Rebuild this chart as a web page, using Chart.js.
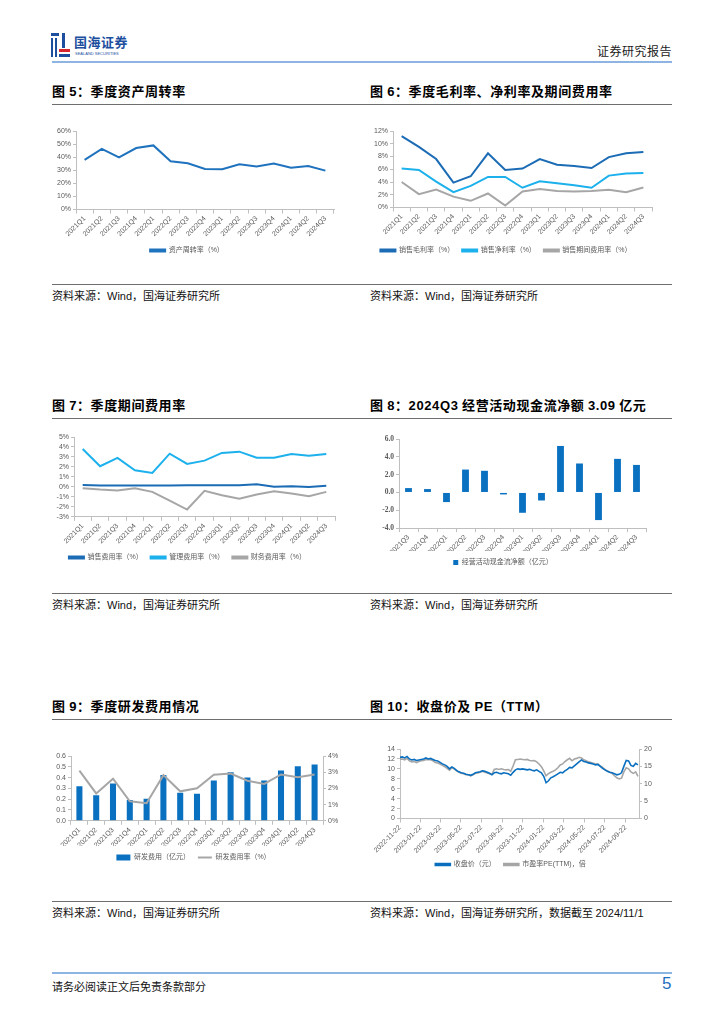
<!DOCTYPE html>
<html>
<head>
<meta charset="utf-8">
<script src="https://cdn.jsdelivr.net/npm/chart.js@4.4.1/dist/chart.umd.min.js"></script>
<style>
  body { margin: 0; background: #fff; }
  #page { position: relative; width: 724px; height: 1024px; overflow: hidden; background: #fff;
          font-family: "Noto Sans CJK SC", "Liberation Sans", sans-serif; }
  .blk { position: absolute; }
  .title { position: absolute; font-size: 13px; font-weight: bold; color: #000; white-space: nowrap; line-height: 16px; letter-spacing: 0.6px; }
  .title .n { font-family: "Liberation Sans", sans-serif; }
  .src { position: absolute; font-size: 11px; color: #111; white-space: nowrap; line-height: 14px; }
  .src .n { font-family: "Liberation Sans", sans-serif; }
  .rule { position: absolute; left: 52px; width: 620px; height: 1px; background: #6e6e6e; }
  canvas { position: absolute; }
</style>
</head>
<body>
<div id="page">
  <!-- header -->
  <div class="blk" style="left:51px;top:33px;width:8px;height:3px;background:#1d4f9e"></div>
  <div class="blk" style="left:51px;top:38px;width:2px;height:19px;background:#1d4f9e"></div>
  <div class="blk" style="left:55px;top:38px;width:2px;height:19px;background:#1d4f9e"></div>
  <div class="blk" style="left:62px;top:33px;width:3px;height:15px;background:#1d4f9e"></div>
  <div class="blk" style="left:59px;top:49px;width:11px;height:3px;background:#d7262d"></div>
  <div class="blk" style="left:59px;top:54px;width:11px;height:3px;background:#1d4f9e"></div>
  <div class="blk" style="left:74px;top:34px;font-size:13px;font-weight:bold;color:#1d4f9e;line-height:15px;letter-spacing:0.5px">国海证券</div>
  <div class="blk" style="left:75px;top:51px;font-size:4px;color:#1d4f9e;line-height:5px;font-family:'Liberation Sans';white-space:nowrap">SEALAND SECURITIES</div>
  <div class="blk" style="right:52px;top:44px;font-size:12px;color:#222;line-height:14px;letter-spacing:0.5px">证券研究报告</div>
  <div class="blk" style="left:52px;top:61px;width:620px;height:2px;background:#8db4e2"></div>

  <!-- row 1 -->
  <div class="title" style="left:52px;top:83px">图 <span class="n">5</span>：季度资产周转率</div>
  <div class="title" style="left:370px;top:83px">图 <span class="n">6</span>：季度毛利率、净利率及期间费用率</div>
  <div class="rule" style="top:104px"></div>
  <canvas id="c5"></canvas>
  <canvas id="c6"></canvas>
  <div class="rule" style="top:284px"></div>
  <div class="src" style="left:52px;top:288px">资料来源：<span class="n">Wind</span>，国海证券研究所</div>
  <div class="src" style="left:370px;top:288px">资料来源：<span class="n">Wind</span>，国海证券研究所</div>

  <!-- row 2 -->
  <div class="title" style="left:52px;top:397px">图 <span class="n">7</span>：季度期间费用率</div>
  <div class="title" style="left:370px;top:397px">图 <span class="n">8</span>：<span class="n">2024Q3</span> 经营活动现金流净额 <span class="n">3.09</span> 亿元</div>
  <div class="rule" style="top:418px"></div>
  <canvas id="c7"></canvas>
  <canvas id="c8"></canvas>
  <div class="rule" style="top:593px"></div>
  <div class="src" style="left:52px;top:597px">资料来源：<span class="n">Wind</span>，国海证券研究所</div>
  <div class="src" style="left:370px;top:597px">资料来源：<span class="n">Wind</span>，国海证券研究所</div>

  <!-- row 3 -->
  <div class="title" style="left:52px;top:698px">图 <span class="n">9</span>：季度研发费用情况</div>
  <div class="title" style="left:370px;top:698px">图 <span class="n">10</span>：收盘价及 <span class="n">PE</span>（<span class="n">TTM</span>）</div>
  <div class="rule" style="top:719px"></div>
  <canvas id="c9"></canvas>
  <canvas id="c10"></canvas>
  <div class="rule" style="top:901px"></div>
  <div class="src" style="left:52px;top:905px">资料来源：<span class="n">Wind</span>，国海证券研究所</div>
  <div class="src" style="left:370px;top:905px">资料来源：<span class="n">Wind</span>，国海证券研究所，数据截至 <span class="n">2024/11/1</span></div>

  <!-- footer -->
  <div class="blk" style="left:52px;top:972px;width:620px;height:2px;background:#8db4e2"></div>
  <div class="src" style="left:52px;top:979px">请务必阅读正文后免责条款部分</div>
  <div class="blk" style="left:662px;top:974px;font-size:17px;color:#1f6fc0;font-family:'Liberation Sans';line-height:20px">5</div>
</div>

<script>
// ---- data ----
const quarters = ['2021Q1', '2021Q2', '2021Q3', '2021Q4', '2022Q1', '2022Q2', '2022Q3', '2022Q4',
  '2023Q1', '2023Q2', '2023Q3', '2023Q4', '2024Q1', '2024Q2', '2024Q3'];
const assetTurnover = [38, 46.3, 39.9, 47, 49, 36.9, 35.3, 31, 30.8, 34.6, 32.8, 35.1, 32, 33.3, 29.7];

const grossMargin = [11.2, 9.5, 7.6, 3.9, 4.9, 8.5, 5.9, 6.1, 7.6, 6.7, 6.5, 6.2, 7.9, 8.5, 8.7];
const netMargin = [6.1, 5.9, 4.05, 2.4, 3.4, 4.8, 4.8, 3.1, 4.1, 3.8, 3.5, 3.1, 5.0, 5.35, 5.4];
const periodExpRate = [4.0, 2.1, 2.8, 1.7, 1.05, 2.2, 0.3, 2.5, 2.9, 2.6, 2.5, 2.6, 2.8, 2.4, 3.15];

const sellingExpRate = [0.2, 0.15, 0.13, 0.13, 0.13, 0.13, 0.17, 0.17, 0.17, 0.17, 0.27, 0.02, 0.07, 0.0, 0.12];
const adminExpRate = [3.8, 2.07, 2.9, 1.67, 1.4, 3.33, 2.3, 2.63, 3.4, 3.53, 2.93, 2.93, 3.3, 3.13, 3.3];
const finExpRate = [-0.13, -0.27, -0.37, -0.13, -0.5, -1.37, -2.27, -0.4, -0.83, -1.2, -0.77, -0.43, -0.67, -0.93, -0.5];

const cfQuarters = ['2021Q3', '2021Q4', '2022Q1', '2022Q2', '2022Q3', '2022Q4', '2023Q1', '2023Q2',
  '2023Q3', '2023Q4', '2024Q1', '2024Q2', '2024Q3'];
const opCashFlow = [0.49, 0.38, -1.08, 2.57, 2.43, -0.22, -2.28, -0.9, 5.22, 3.25, -3.1, 3.77, 3.09];

const rdExpense = [0.32, 0.236, 0.345, 0.193, 0.205, 0.423, 0.26, 0.25, 0.373, 0.45, 0.4, 0.373, 0.466, 0.504, 0.522];
const rdRate = [3.1, 1.69, 2.6, 1.2, 1.08, 2.82, 1.82, 2.01, 2.84, 2.92, 2.47, 2.28, 2.86, 2.69, 2.86];

// weekly readings from 2022-11-22 to 2024-11-01
const priceStart = '2022-11-22';
const priceEnd = '2024-11-01';
const closePrice = [12.3, 12.4, 12.2, 12.5, 12.0, 11.8, 11.9, 11.7, 11.8, 11.9, 12.0, 12.2, 12.0, 12.1, 11.9, 11.7,
  11.6, 11.3, 11.0, 10.8, 10.5, 10.0, 10.4, 10.1, 9.7, 9.4, 9.2, 9.1, 8.9, 8.8, 8.7, 8.9,
  9.2, 9.3, 9.4, 9.6, 9.5, 9.3, 9.1, 8.8, 9.2, 9.3, 9.1, 9.0, 9.2, 9.1, 9.0, 8.7,
  9.3, 9.8, 10.0, 9.9, 10.0, 9.9, 9.8, 9.9, 9.7, 9.6, 9.8, 9.5, 9.2, 8.5, 7.2, 7.6,
  8.2, 8.4, 8.7, 9.0, 9.3, 9.2, 9.6, 9.9, 10.3, 10.2, 10.6, 11.0, 11.4, 11.8, 11.5, 11.4,
  11.2, 11.1, 11.0, 10.8, 10.9, 10.5, 10.1, 9.8, 9.5, 9.3, 9.2, 9.0, 8.8, 8.9, 9.2, 10.5,
  11.7, 11.6, 10.7, 10.5, 11.1, 10.8];
const peTTM = [17.1, 17.1, 16.9, 17.3, 16.6, 16.3, 16.4, 16.1, 16.4, 16.6, 16.7, 17.0, 16.9, 16.9, 16.6, 16.1,
  16.0, 15.7, 15.3, 14.9, 14.4, 13.9, 14.6, 14.3, 13.7, 13.3, 13.0, 12.9, 12.6, 12.6, 12.3, 12.6,
  13.0, 13.1, 13.3, 13.6, 13.3, 13.1, 12.9, 12.7, 14.1, 14.3, 14.1, 14.3, 14.1, 14.0, 14.1, 13.6,
  15.1, 16.9, 17.0, 17.1, 17.0, 16.9, 17.0, 16.7, 16.6, 16.7, 16.3, 15.7, 14.9, 13.7, 12.3, 12.9,
  13.3, 13.6, 14.0, 14.6, 15.4, 15.7, 16.4, 16.9, 17.3, 16.6, 17.1, 17.3, 17.6, 17.4, 16.9, 16.6,
  16.3, 16.1, 15.9, 15.7, 15.7, 15.1, 14.7, 14.1, 13.7, 13.3, 13.0, 12.3, 11.7, 11.4, 11.6, 13.4,
  14.6, 14.3, 13.4, 13.0, 13.4, 12.1];
const priceTicks = ['2022-11-22', '2023-01-22', '2023-03-22', '2023-05-22', '2023-07-22', '2023-09-22',
  '2023-11-22', '2024-01-22', '2024-03-22', '2024-05-22', '2024-07-22', '2024-09-22'];

// ---- styling ----
Chart.defaults.font.family = '"Liberation Sans", "Noto Sans CJK SC", sans-serif';
Chart.defaults.font.size = 7;
Chart.defaults.color = '#595959';
Chart.defaults.animation = false;
Chart.defaults.responsive = false;
Chart.defaults.plugins.tooltip.enabled = false;

const DARK = '#1b6cb5', CYAN = '#1cb1ec', GREY = '#a6a6a6', BAR = '#0a70c0';
const AXIS = '#bfbfbf';

// place a canvas so that its plot area lands on box {l,t,r,b}; ly = legend text centre
function frame(id, box) {
  const padT = 8, padR = box.padR ?? 8, p = box.legPad ?? 8;
  const left = box.l - box.yw;
  const top = box.t - padT;
  const width = Math.round(box.r + (box.yrw || 0) + padR - left);
  const legTop = box.ly - p - 3.5;
  const height = Math.round(legTop + 7 + p + 10 - top);
  const c = document.getElementById(id);
  c.style.left = left + 'px';
  c.style.top = top + 'px';
  c.width = width;
  c.height = height;
  return { xh: legTop - box.b, p, padT, padR, yw: box.yw, yrw: box.yrw };
}

function xCat(f) {
  return {
    offset: true,
    afterFit: s => { s.height = f.xh; },
    border: { color: AXIS },
    grid: { display: true, drawOnChartArea: false, offset: true, tickLength: 4, color: AXIS },
    ticks: { autoSkip: false, minRotation: 45, maxRotation: 45, padding: 1 }
  };
}

function yLin(f, min, max, step, fmt, pos, font) {
  const t = { stepSize: step, callback: fmt, padding: 2, autoSkip: false };
  if (font) t.font = font;
  return {
    position: pos || 'left',
    min: min, max: max,
    afterFit: s => { s.width = pos === 'right' ? f.yrw : f.yw; },
    border: { color: AXIS },
    grid: { display: true, drawOnChartArea: false, tickLength: 3, color: AXIS },
    ticks: t
  };
}

function legendOpts(f, extra) {
  return {
    position: 'bottom',
    labels: Object.assign({ boxWidth: 15, boxHeight: 2, padding: f.p, color: '#595959' }, extra || {})
  };
}

function line(label, data, color, width) {
  return { type: 'line', label: label, data: data, borderColor: color, backgroundColor: color,
           borderWidth: width || 2, pointRadius: 0, tension: 0, fill: false };
}

const pct = v => v + '%';

// ---- 图5 ----
let f = frame('c5', { l: 76, t: 131, r: 334, b: 209.5, yw: 36, ly: 250.5 });
new Chart('c5', {
  type: 'line',
  data: { labels: quarters, datasets: [line('资产周转率（%）', assetTurnover, '#1f72bd')] },
  options: {
    layout: { padding: { top: f.padT, right: f.padR } },
    plugins: { legend: legendOpts(f) },
    scales: { x: xCat(f), y: yLin(f, 0, 60, 10, pct) }
  }
});

// ---- 图6 ----
f = frame('c6', { l: 393, t: 131, r: 652, b: 207.7, yw: 33, ly: 250.7 });
new Chart('c6', {
  type: 'line',
  data: {
    labels: quarters,
    datasets: [
      line('销售毛利率（%）', grossMargin, DARK),
      line('销售净利率（%）', netMargin, CYAN),
      line('销售期间费用率（%）', periodExpRate, GREY)
    ]
  },
  options: {
    layout: { padding: { top: f.padT, right: f.padR } },
    plugins: { legend: legendOpts(f) },
    scales: { x: xCat(f), y: yLin(f, 0, 12, 2, pct) }
  }
});

// ---- 图7 ----
f = frame('c7', { l: 74, t: 437.3, r: 334.7, b: 517.3, yw: 34, ly: 558 });
new Chart('c7', {
  type: 'line',
  data: {
    labels: quarters,
    datasets: [
      line('销售费用率（%）', sellingExpRate, DARK),
      line('管理费用率（%）', adminExpRate, CYAN),
      line('财务费用率（%）', finExpRate, GREY)
    ]
  },
  options: {
    layout: { padding: { top: f.padT, right: f.padR } },
    plugins: { legend: legendOpts(f) },
    scales: { x: xCat(f), y: yLin(f, -3, 5, 1, pct) }
  }
});

// ---- 图8 ----
f = frame('c8', { l: 399, t: 439, r: 645.5, b: 528.3, yw: 39, ly: 562.7 });
new Chart('c8', {
  type: 'bar',
  data: {
    labels: cfQuarters,
    datasets: [{ label: '经营活动现金流净额（亿元）', data: opCashFlow, backgroundColor: BAR,
                 categoryPercentage: 1, barPercentage: 0.36 }]
  },
  options: {
    layout: { padding: { top: f.padT, right: f.padR } },
    plugins: { legend: legendOpts(f, { boxWidth: 5, boxHeight: 5 }) },
    scales: {
      x: xCat(f),
      y: yLin(f, -4, 6, 2, v => v.toFixed(1), 'left',
              { family: '"Liberation Serif", serif', size: 7.5, weight: 'bold' })
    }
  }
});

// ---- 图9 ----
f = frame('c9', { l: 71, t: 755.7, r: 322.7, b: 820, yw: 31, yrw: 24, padR: 4, ly: 856.7 });
new Chart('c9', {
  type: 'bar',
  data: {
    labels: quarters,
    datasets: [
      { type: 'bar', label: '研发费用（亿元）', data: rdExpense, backgroundColor: BAR, yAxisID: 'y',
        categoryPercentage: 1, barPercentage: 0.36, order: 1, pointStyle: 'rect' },
      Object.assign(line('研发费用率（%）', rdRate, GREY), { yAxisID: 'y1', order: 0, pointStyle: 'line' })
    ]
  },
  options: {
    layout: { padding: { top: f.padT, right: f.padR } },
    plugins: {
      legend: legendOpts(f, { usePointStyle: true, pointStyleWidth: 14, boxHeight: 6,
                              sort: (a, b) => a.datasetIndex - b.datasetIndex })
    },
    scales: {
      x: xCat(f),
      y: yLin(f, 0, 0.6, 0.1, v => v.toFixed(1)),
      y1: yLin(f, 0, 4, 1, pct, 'right')
    }
  }
});

// ---- 图10 ----
f = frame('c10', { l: 400, t: 749.3, r: 639.3, b: 819, yw: 40, yrw: 22, padR: 5, ly: 865 });
const t0 = new Date(priceStart);
const toWeek = d => (new Date(d) - t0) / 6048e5;
new Chart('c10', {
  type: 'line',
  data: {
    datasets: [
      Object.assign(line('收盘价（元）', closePrice.map((v, i) => ({ x: i, y: v })), '#0a6fbf', 1.6), { yAxisID: 'y', order: 0 }),
      Object.assign(line('市盈率PE(TTM)，倍', peTTM.map((v, i) => ({ x: i, y: v })), GREY, 1.6), { yAxisID: 'y1', order: 1 })
    ]
  },
  options: {
    layout: { padding: { top: f.padT, right: f.padR } },
    plugins: { legend: legendOpts(f, { sort: (a, b) => a.datasetIndex - b.datasetIndex }) },
    scales: {
      x: {
        type: 'linear', min: 0, max: toWeek(priceEnd),
        afterBuildTicks: ax => { ax.ticks = priceTicks.map(d => ({ value: toWeek(d) })); },
        afterFit: s => { s.height = f.xh; },
        border: { color: AXIS },
        grid: { display: true, drawOnChartArea: false, tickLength: 4, color: AXIS },
        ticks: { autoSkip: false, minRotation: 45, maxRotation: 45, padding: 1,
                 callback: (v, i) => priceTicks[i] }
      },
      y: yLin(f, 0, 14, 2, v => v),
      y1: yLin(f, 0, 20, 5, v => v, 'right')
    }
  }
});
</script>
</body>
</html>
